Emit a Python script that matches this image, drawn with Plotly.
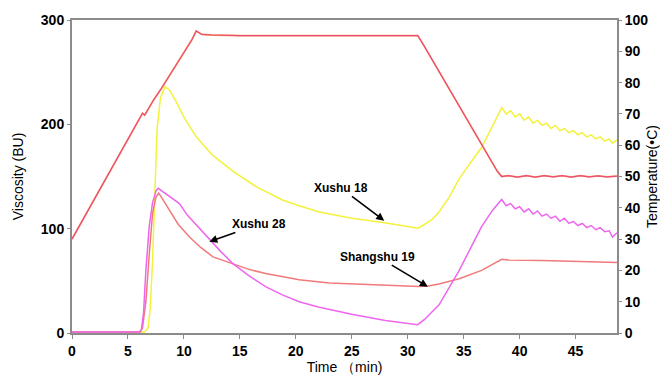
import plotly.graph_objects as go
from plotly.subplots import make_subplots

# ---------------- data ----------------
temp_t = [0, 1, 2, 3, 4, 5, 5.6, 6.0, 6.3, 6.5, 6.8, 7.3, 8.0, 9.0, 10.0, 10.7, 11.1, 11.6, 12.5,
          15, 20, 25, 30.9, 31.5, 33, 35, 37, 38.0, 38.4, 39.0, 39.8, 40.6, 41.4, 42.2, 43.0,
          43.8, 44.6, 45.4, 46.2, 47.0, 47.8, 48.7]
temp_c = [30, 36.4, 42.8, 49.1, 55.5, 61.9, 65.4, 68.2, 70.2, 69.6, 71.6, 74.5, 78.2, 84, 89.6, 93.6, 96.5, 95.4, 95.2,
          95, 95, 95, 95, 91.5, 82.3, 70, 57.8, 51.7, 50, 50.3, 49.8, 50.3, 49.8, 50.3, 49.9,
          50.3, 49.8, 50.3, 49.9, 50.2, 49.9, 50.1]

xushu18_t = [0, 6.5, 6.8, 7.0, 7.2, 7.4, 7.6, 7.9, 8.3, 8.7, 9.3, 10.0, 11.1, 12.5, 14.4, 16.5, 18.8,
             20.3, 22.1, 25.0, 27.8, 30.0, 30.9, 31.5, 32.2, 32.8, 33.7, 34.6, 35.6, 36.6, 37.8,
             38.4, 38.8, 39.2, 39.6, 40.0, 40.4, 40.8, 41.2, 41.6, 42.0, 42.4, 42.8, 43.2, 43.6,
             44.0, 44.4, 44.8, 45.2, 45.6, 46.0, 46.4, 46.8, 47.2, 47.6, 48.0, 48.3, 48.7]
xushu18_v = [1, 1, 5, 25, 70, 140, 195, 225, 236, 233, 222, 207, 188, 171, 155, 140, 127.5,
             122, 116, 110, 106, 102, 100.5, 104, 109, 116, 130, 148, 163, 178, 203,
             216, 210, 213, 207, 210, 204, 207, 201, 204, 199, 201, 196, 199, 194,
             196, 192, 194, 190, 192, 188, 190, 186, 188, 184, 186, 182, 185]

xushu28_t = [0, 6.0, 6.2, 6.4, 6.6, 6.9, 7.2, 7.5, 7.7, 8.2, 9.0, 9.6, 10.3, 11.3, 12.3, 13.3, 14.35,
             15.8, 17.3, 18.8, 20.3, 22.0, 25.0, 28.0, 30.9, 31.5, 32.8, 34.6, 36.6, 37.6,
             38.4, 38.8, 39.2, 39.6, 40.0, 40.4, 40.8, 41.2, 41.6, 42.0, 42.4, 42.8, 43.2, 43.6,
             44.0, 44.4, 44.8, 45.2, 45.6, 46.0, 46.4, 46.8, 47.2, 47.6, 48.0, 48.3, 48.7]
xushu28_v = [1, 1, 3, 20, 60, 102, 125, 136, 138.7, 135, 129, 124, 113, 101, 89, 78, 66.8,
             55, 44.4, 36.5, 30, 25, 18, 12, 8, 13, 27, 60, 102, 118,
             128, 122, 124, 119, 121, 116, 119, 114, 117, 112, 114, 110, 112, 107,
             110, 105, 107, 103, 105, 101, 103, 99, 101, 97, 98, 92, 96]

shangshu19_t = [0, 6.1, 6.3, 6.6, 6.9, 7.2, 7.5, 7.74, 8.0, 8.7, 9.5, 10.5, 11.5, 12.6, 14.4, 15.8,
                17.3, 20.3, 23.0, 26.0, 29.3, 31.0, 31.8, 32.8, 34.6, 36.6, 38.4, 39.0, 42.0, 45.0, 48.7]
shangshu19_v = [1, 1, 5, 30, 75, 115, 130, 134, 130, 118, 104, 92, 82, 73, 66, 61,
                57, 51, 48, 46.5, 45, 44.5, 45, 47, 52, 60, 70.6, 70, 69.5, 68.5, 67.5]

x_ticks = [0, 5, 10, 15, 20, 25, 30, 35, 40, 45]
y_ticks = [0, 100, 200, 300]
t_ticks = [0, 10, 20, 30, 40, 50, 60, 70, 80, 90, 100]

# ---------------- figure ----------------
fig = make_subplots(specs=[[{"secondary_y": True}]])

fig.add_trace(go.Scatter(x=xushu18_t, y=xushu18_v, mode="lines",
                         line=dict(color="#F2F23C", width=1.5), showlegend=False))
fig.add_trace(go.Scatter(x=shangshu19_t, y=shangshu19_v, mode="lines",
                         line=dict(color="#F07A7A", width=1.5), showlegend=False))
fig.add_trace(go.Scatter(x=xushu28_t, y=xushu28_v, mode="lines",
                         line=dict(color="#EE66EE", width=1.5), showlegend=False))
fig.add_trace(go.Scatter(x=temp_t, y=temp_c, mode="lines",
                         line=dict(color="#F5A850", width=1.8), showlegend=False), secondary_y=True)
fig.add_trace(go.Scatter(x=temp_t, y=temp_c, mode="lines",
                         line=dict(color="#EE4A82", width=1.2), showlegend=False), secondary_y=True)

tickfont = dict(family="Arial, Liberation Sans, sans-serif", size=14, color="black", weight="bold")
titlefont = dict(family="Arial, Liberation Sans, sans-serif", size=14, color="black")
axcol = "#8C8C8C"

fig.update_xaxes(range=[0, 48.7], tickvals=x_ticks, showgrid=False, zeroline=False, domain=[0, 1],
                 showline=True, linecolor=axcol, linewidth=2, mirror=True, automargin=False,
                 ticks="outside", ticklen=4, tickcolor=axcol, tickfont=tickfont,
                 title=dict(text="Time （min)", font=titlefont, standoff=2))
fig.update_yaxes(range=[0, 300], tickvals=y_ticks, showgrid=False, zeroline=False,
                 showline=True, linecolor=axcol, linewidth=2, automargin=False,
                 ticks="outside", ticklen=3, tickcolor=axcol, tickfont=tickfont,
                 title=dict(text="Viscosity (BU)", font=titlefont, standoff=14),
                 secondary_y=False)
fig.update_yaxes(range=[0, 100], tickvals=t_ticks, showgrid=False, zeroline=False,
                 showline=True, linecolor=axcol, linewidth=2, automargin=False,
                 ticks="outside", ticklen=3, tickcolor=axcol, tickfont=tickfont,
                 title=dict(text="Temperature(•C)", font=titlefont, standoff=0),
                 secondary_y=True)

annfont = dict(family="Liberation Sans Narrow, Arial Narrow, Arial, sans-serif", size=12,
               color="black", weight="bold")
labels = [("Xushu 28", 12.27, 87.5, 16.74, 104.5),
          ("Xushu 18", 27.9, 107.7, 24.0, 139.0),
          ("Shangshu 19", 31.8, 44.4, 27.3, 73.2)]
for txt, x, y, ax, ay in labels:
    fig.add_annotation(text=txt, x=x, y=y, ax=ax, ay=ay, xref="x", yref="y",
                       axref="x", ayref="y", showarrow=True, arrowhead=2, arrowsize=1,
                       arrowwidth=1.6, arrowcolor="black", font=annfont)

# page body adds an 8px offset; size the figure to fill the rest of the window
fig.update_layout(width=660, height=370, margin=dict(l=64, r=51, t=12, b=45),
                  paper_bgcolor="white", plot_bgcolor="white")

fig.write_html("out.html")
